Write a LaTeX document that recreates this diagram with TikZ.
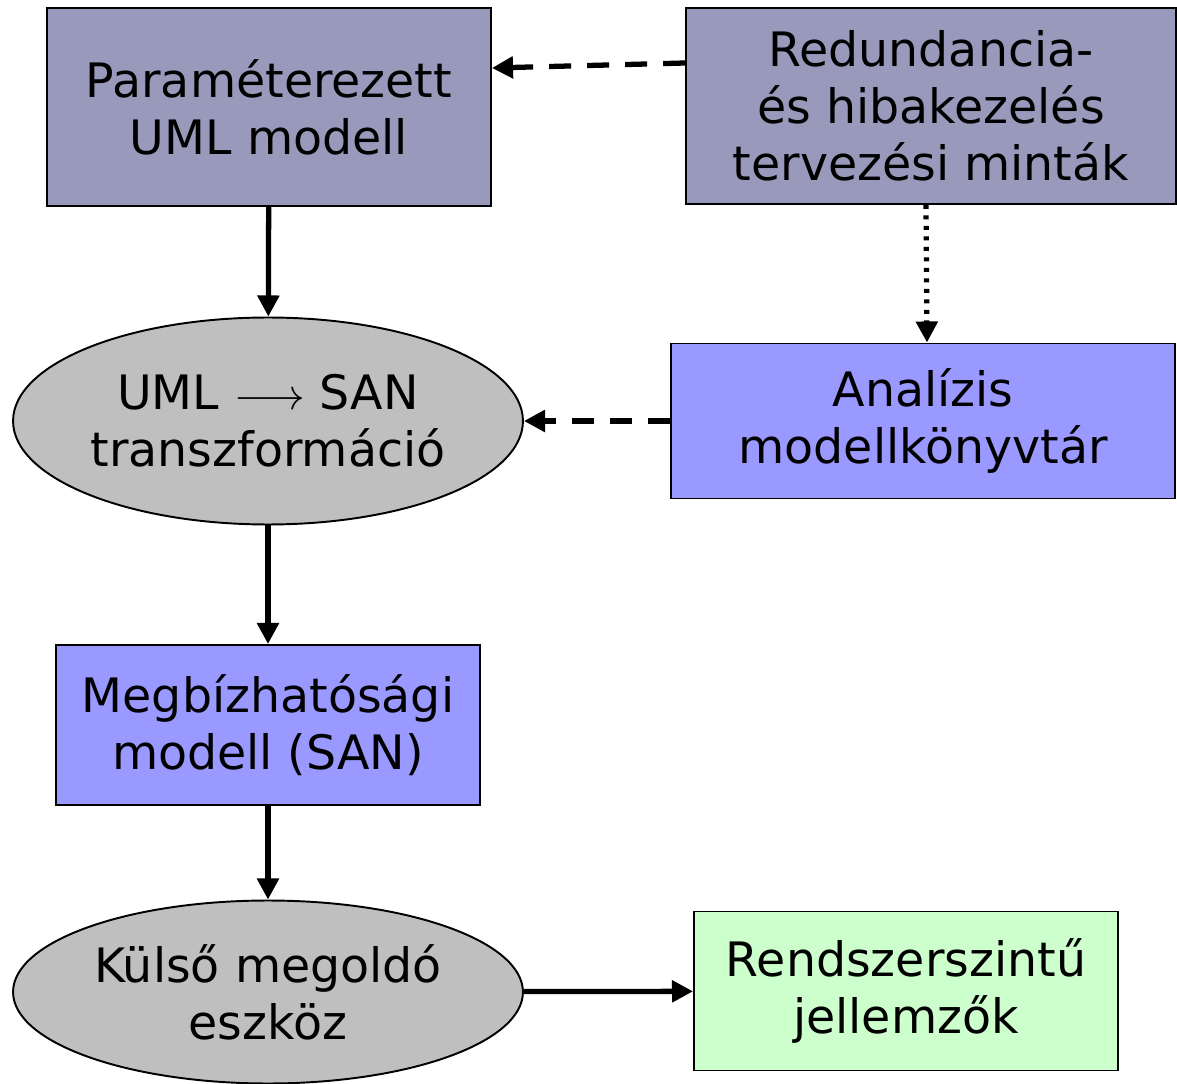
\documentclass[tikz,border=0pt]{standalone}
\usepackage{fontspec}
\setmainfont{DejaVu Sans}
\usetikzlibrary{arrows.meta,shapes.geometric}

\begin{document}
\begin{tikzpicture}[x=0.02cm,y=-0.02cm,line width=3pt]
    \tikzstyle{box}=[rectangle,draw=black,line width=1.1pt,inner sep=0pt,align=center,font=\fontsize{27}{32.5}\selectfont]
    \tikzstyle{oval}=[ellipse,draw=black,line width=1.1pt,fill=gray!50,inner sep=0pt,align=center,font=\fontsize{27}{32.5}\selectfont,minimum width=10.2cm]
    \tikzstyle{arr}=[-{Triangle[length=12pt,width=12pt]}]
    \tikzstyle{dashline}=[dash pattern=on 0.44cm off 0.32cm]
    \tikzstyle{dotline}=[line width=3pt,dash pattern=on 0.08cm off 0.13cm]
    \definecolor{grayblue}{RGB}{153,153,187}
    \definecolor{lightblue}{RGB}{153,153,255}
    \definecolor{lightgreen}{RGB}{204,255,204}
    \useasboundingbox (0,0) rectangle (1177,1084);

    \node[box,fill=grayblue,minimum width=8.88cm,minimum height=3.96cm] (param) at (269,107) {Paraméterezett\\UML modell};
    \node[box,fill=grayblue,minimum width=9.8cm,minimum height=3.92cm] (redund) at (931,106) {Redundancia-\\és hibakezelés\\tervezési minták};
    \node[oval,minimum height=4.14cm] (trans) at (268,421) {UML $\longrightarrow$ SAN\\transzformáció};
    \node[box,fill=lightblue,minimum width=10.1cm,minimum height=3.1cm] (lib) at (923,421) {Analízis\\modellkönyvtár};
    \node[box,fill=lightblue,minimum width=8.5cm,minimum height=3.2cm] (san) at (268,725) {Megbízhatósági\\modell (SAN)};
    \node[oval,minimum height=3.66cm] (solver) at (268,992) {Külső megoldó\\eszköz};
    \node[box,fill=lightgreen,minimum width=8.48cm,minimum height=3.18cm] (result) at (906,991) {Rendszerszintű\\jellemzők};

    \foreach \from/\to in {param/trans, trans/san, san/solver}
        \draw[arr] (\from) -- (\to);
    \draw[arr] (solver) -- (result);

    \draw[arr,dashline] (redund.west |- 0,63) -- (param.east |- 0,68);
    \draw[arr,dashline] (lib) -- (trans);
    \draw[arr,dotline] (redund.south -| 926,0) -- (lib.north -| 927,0);
\end{tikzpicture}
\end{document}
